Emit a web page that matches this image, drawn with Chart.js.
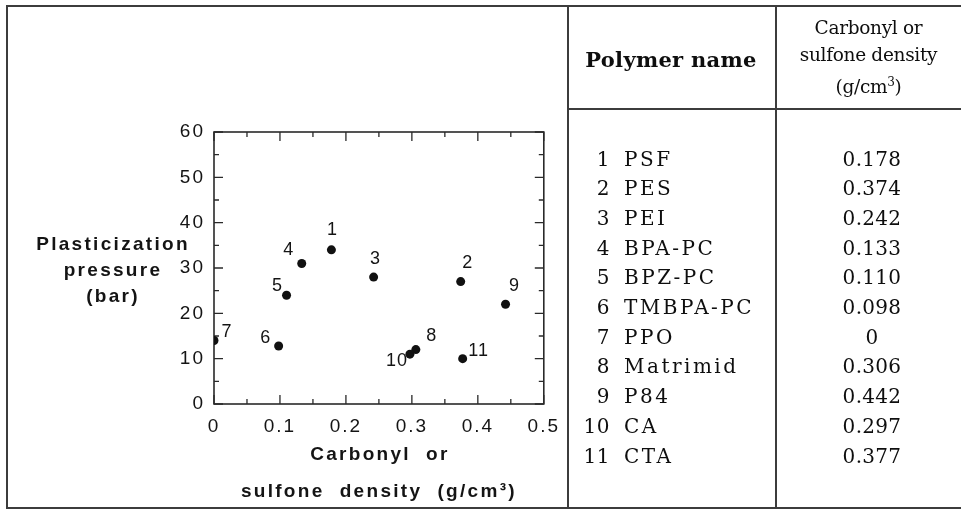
<!DOCTYPE html>
<html><head><meta charset="utf-8">
<script src="https://cdn.jsdelivr.net/npm/chart.js@4"></script>
<style>
html,body{margin:0;padding:0;background:#fff;}
body{width:961px;height:511px;position:relative;overflow:hidden;}
#plot{position:absolute;left:0;top:0;width:568px;height:511px;}
.ln{position:absolute;background:#3c3c3c;}
.t{position:absolute;font-family:"DejaVu Serif",serif;color:#0e0e0e;white-space:nowrap;height:26px;line-height:26px;}
</style></head><body>
<div id="plot"><canvas id="c"></canvas></div>
<div id="table"></div>
<script>
// ---- data ----
const polymerIds = ['1','2','3','4','5','6','7','8','9','10','11'];
const polymerNames = ['PSF','PES','PEI','BPA-PC','BPZ-PC','TMBPA-PC','PPO','Matrimid','P84','CA','CTA'];
const densityLabels = ['0.178','0.374','0.242','0.133','0.110','0.098','0','0.306','0.442','0.297','0.377'];
const carbonylDensity = [0.178,0.374,0.242,0.133,0.110,0.098,0,0.306,0.442,0.297,0.377];
const plasticizationPressure = [34,27,28,31,24,12.8,14,12,22,11,10];
const xTickValues = [0,0.1,0.2,0.3,0.4,0.5];
const xTickLabels = ['0','0.1','0.2','0.3','0.4','0.5'];
const xMinorValues = [0.05,0.15,0.25,0.35,0.45];
const yTickValues = [0,10,20,30,40,50,60];
const yTickLabels = ['0','10','20','30','40','50','60'];
const yMinorValues = [5,15,25,35,45,55];
const yTitleLines = ['Plasticization','pressure','(bar)'];
const xTitleLines = ['Carbonyl  or','sulfone  density  (g/cm\u00B3)'];
const headerName = 'Polymer name';
const headerDensity = ['Carbonyl or','sulfone density','(g/cm<sup style="font-size:12px;vertical-align:7px">3</sup>)'];

// ---- style (label offsets from the point, px) ----
const labelOffsets = [[1,-20],[7,-19],[2,-18],[-13,-13],[-9,-9],[-13,-8],[13,-9],[16,-14],[9,-18],[-13,7],[16,-8]];
const INK = '#141414';

// ---- table (HTML) ----
const tb = document.getElementById('table');
function line(l,t,w,h){const d=document.createElement('div');d.className='ln';Object.assign(d.style,{left:l+'px',top:t+'px',width:w+'px',height:h+'px'});tb.appendChild(d);}
function text(html,css){const d=document.createElement('div');d.className='t';d.innerHTML=html;Object.assign(d.style,css);tb.appendChild(d);return d;}
line(6,5,955,1.5); line(6,5,1.5,503); line(6,507,955,1.5);
line(567,5,1.5,503); line(775,5,1.5,503); line(567,108,394,1.5);
text(headerName,{left:'567px',width:'208px',top:'47px',textAlign:'center',fontWeight:'bold',fontSize:'21px',letterSpacing:'0.3px'});
headerDensity.forEach((h,i)=>text(h,{left:'776px',width:'185px',top:(15+27*i)+'px',textAlign:'center',fontSize:'18.5px',letterSpacing:'-0.3px'}));
polymerNames.forEach((n,i)=>{
  const top = 158.5+29.7*i-13;
  text(polymerIds[i],{left:'560px',width:'50px',top:top+'px',textAlign:'right',fontSize:'20px',letterSpacing:'0.5px'});
  text(n,{left:'624px',top:top+'px',fontSize:'20px',letterSpacing:'2.5px'});
  text(densityLabels[i],{left:'776px',width:'192px',top:top+'px',textAlign:'center',fontSize:'20px',letterSpacing:'0.3px'});
});

// ---- chart ----
const frameTicks = {
  id:'frameTicks',
  beforeDraw(chart){ chart.ctx.letterSpacing='2px'; },
  beforeDatasetsDraw(chart){
    const {ctx, chartArea:a, scales:{x,y}} = chart;
    ctx.save();
    ctx.strokeStyle='#2a2a2a';
    ctx.lineWidth=1.6;
    ctx.strokeRect(a.left,a.top,a.right-a.left,a.bottom-a.top);
    ctx.lineWidth=1.3;
    ctx.beginPath();
    const xt=(v,L)=>{const p=x.getPixelForValue(v);ctx.moveTo(p,a.bottom);ctx.lineTo(p,a.bottom-L);ctx.moveTo(p,a.top);ctx.lineTo(p,a.top+L);};
    const yt=(v,L)=>{const p=y.getPixelForValue(v);ctx.moveTo(a.left,p);ctx.lineTo(a.left+L,p);ctx.moveTo(a.right,p);ctx.lineTo(a.right-L,p);};
    xTickValues.forEach(v=>xt(v,9)); xMinorValues.forEach(v=>xt(v,5));
    yTickValues.forEach(v=>yt(v,9)); yMinorValues.forEach(v=>yt(v,5));
    ctx.stroke();
    ctx.restore();
  },
  afterDraw(chart){
    const {ctx, scales:{x,y}} = chart;
    const meta = chart.getDatasetMeta(0);
    ctx.save();
    ctx.fillStyle=INK;
    ctx.letterSpacing='1px';
    ctx.font='18px "Liberation Sans", Arial, sans-serif';
    ctx.textAlign='center'; ctx.textBaseline='middle';
    meta.data.forEach((pt,i)=>{
      ctx.fillText(polymerIds[i], pt.x+labelOffsets[i][0], pt.y+labelOffsets[i][1]);
    });
    ctx.letterSpacing='2.3px';
    ctx.font='bold 19px "Liberation Sans", Arial, sans-serif';
    yTitleLines.forEach((s,i)=>ctx.fillText(s,113,245+26*i));
    const cx=(x.getPixelForValue(0)+x.getPixelForValue(0.5))/2;
    ctx.fillText(xTitleLines[0],cx+1,455);
    ctx.fillText(xTitleLines[1],cx,492);
    ctx.restore();
  }
};

new Chart(document.getElementById('c'),{
  type:'scatter',
  data:{datasets:[{
    data: carbonylDensity.map((v,i)=>({x:v,y:plasticizationPressure[i]})),
    backgroundColor:'#111', borderColor:'#111', pointRadius:4.5, pointHoverRadius:4.5, borderWidth:0
  }]},
  options:{
    responsive:true, maintainAspectRatio:false, animation:false,
    layout:{padding:{top:132,right:24,bottom:0,left:0}},
    plugins:{legend:{display:false},tooltip:{enabled:false}},
    scales:{
      x:{type:'linear',min:0,max:0.5,
        grid:{display:false,drawTicks:false}, border:{display:false},
        afterFit(s){s.height=107;},
        afterBuildTicks(s){s.ticks=xTickValues.map(v=>({value:v}));},
        ticks:{padding:11,color:INK,autoSkip:false,maxRotation:0,font:{family:'"Liberation Sans", Arial',size:19},callback:(v,i)=>xTickLabels[i]}
      },
      y:{type:'linear',min:0,max:60,
        grid:{display:false,drawTicks:false}, border:{display:false},
        afterFit(s){s.width=214;},
        afterBuildTicks(s){s.ticks=yTickValues.map(v=>({value:v}));},
        ticks:{padding:9,color:INK,autoSkip:false,font:{family:'"Liberation Sans", Arial',size:19},callback:(v,i)=>yTickLabels[i]}
      }
    }
  },
  plugins:[frameTicks]
});
</script>
</body></html>
